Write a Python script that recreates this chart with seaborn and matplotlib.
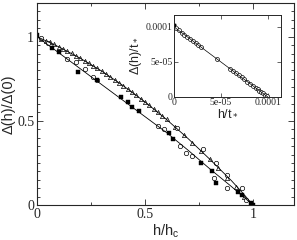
import numpy as np
import pandas as pd
import seaborn as sns
import matplotlib.pyplot as plt
from matplotlib.ticker import MultipleLocator

# ---- data ----
line_h = [0.0, 0.1, 0.2, 0.3, 0.4, 0.5, 0.6, 0.7, 0.8, 0.9, 0.95, 1.0]
upper_line = [1.0, 0.94, 0.872, 0.795, 0.708, 0.612, 0.508, 0.394, 0.272, 0.145, 0.075, 0.0]
lower_line = [1.0, 0.905, 0.81, 0.715, 0.62, 0.525, 0.43, 0.325, 0.215, 0.11, 0.055, 0.0]

tri_h = [0.02, 0.04, 0.06, 0.08, 0.10, 0.12, 0.14, 0.16, 0.18, 0.20, 0.22, 0.24, 0.26,
         0.28, 0.30, 0.32, 0.34, 0.36, 0.38, 0.40, 0.42, 0.44, 0.46, 0.48, 0.50, 0.52,
         0.54, 0.56, 0.58, 0.60, 0.64, 0.68, 0.72, 0.76, 0.80, 0.84, 0.88, 0.92, 0.96]
tri_d = [0.989, 0.977, 0.966, 0.954, 0.941, 0.929, 0.914, 0.901, 0.887, 0.872, 0.857,
         0.842, 0.827, 0.811, 0.795, 0.778, 0.761, 0.744, 0.726, 0.708, 0.690, 0.671,
         0.652, 0.632, 0.612, 0.592, 0.572, 0.551, 0.530, 0.509, 0.463, 0.417,
         0.371, 0.323, 0.272, 0.218, 0.162, 0.104, 0.05]

circ_h = [0.02, 0.05, 0.14, 0.18, 0.22, 0.26, 0.28, 0.56, 0.59, 0.66, 0.69, 0.72,
          0.82, 0.88, 0.97, 0.65, 0.77, 0.83, 0.88, 0.95]
circ_d = [0.99, 0.96, 0.87, 0.85, 0.81, 0.76, 0.74, 0.47, 0.45, 0.35, 0.31, 0.29,
          0.16, 0.10, 0.03, 0.46, 0.33, 0.25, 0.18, 0.10]

sq_h = [0.0, 0.07, 0.10, 0.19, 0.28, 0.39, 0.42, 0.44, 0.47, 0.61, 0.63, 0.76,
        0.81, 0.83, 0.93, 0.95, 0.99, 1.0]
sq_d = [1.01, 0.93, 0.91, 0.79, 0.74, 0.64, 0.61, 0.58, 0.56, 0.43, 0.39, 0.25,
        0.20, 0.13, 0.08, 0.06, 0.01, 0.0]

# inset
ins_line_x = [0.0, 1.0e-4]
ins_line_y = [1.0e-4, 0.0]
ins_x = [0.2e-5, 0.5e-5, 0.8e-5, 1.1e-5, 1.4e-5, 1.7e-5, 2.0e-5, 2.3e-5, 2.6e-5,
         2.9e-5, 4.6e-5, 6.0e-5, 6.3e-5, 6.6e-5, 6.9e-5, 7.2e-5, 7.5e-5, 7.8e-5,
         8.1e-5, 8.4e-5, 8.7e-5, 8.9e-5, 9.1e-5, 9.3e-5, 9.5e-5, 9.7e-5, 9.9e-5]
ins_y = [9.8e-5, 9.5e-5, 9.2e-5, 8.9e-5, 8.6e-5, 8.3e-5, 8.0e-5, 7.7e-5, 7.4e-5,
         7.1e-5, 5.4e-5, 4.0e-5, 3.7e-5, 3.4e-5, 3.1e-5, 2.8e-5, 2.5e-5, 2.2e-5,
         1.9e-5, 1.6e-5, 1.3e-5, 1.1e-5, 0.9e-5, 0.7e-5, 0.5e-5, 0.3e-5, 0.1e-5]
ins_dot_x = [0.0]
ins_dot_y = [1.03e-4]

sns.set_style("ticks")
plt.rcParams['font.family'] = ['Liberation Serif', 'DejaVu Serif']

fig = plt.figure(figsize=(2.97, 2.4), dpi=100)
W, H = 297, 240
ax = fig.add_axes([37 / W, 1 - 205 / H, (294 - 37) / W, (205 - 3) / H])

sns.lineplot(x=line_h, y=upper_line, ax=ax, color='black', lw=0.6)
sns.lineplot(x=line_h, y=lower_line, ax=ax, color='black', lw=0.6)
sns.scatterplot(x=tri_h, y=tri_d, ax=ax, marker='^', s=9, facecolor='white',
                edgecolor='black', linewidth=0.5)
sns.scatterplot(x=circ_h, y=circ_d, ax=ax, marker='o', s=10, facecolor='white',
                edgecolor='black', linewidth=0.5)
sns.scatterplot(x=sq_h, y=sq_d, ax=ax, marker='s', s=11, color='black',
                edgecolor='black', linewidth=0.3)

ax.set_xlim(0, 1.19)
ax.set_ylim(0, 1.2)
ax.set_xticks([0, 0.5, 1])
ax.set_xticklabels(['0', '0.5', '1'])
ax.set_yticks([0, 0.5, 1])
ax.set_yticklabels(['0', '0.5', '1'])
ax.xaxis.set_minor_locator(MultipleLocator(0.25))
ax.yaxis.set_minor_locator(MultipleLocator(0.05))
ax.tick_params(which='both', direction='in', top=True, right=True, labelsize=10,
               width=0.6, pad=2)
ax.tick_params(which='major', length=4)
ax.tick_params(which='minor', length=2)
for sp in ax.spines.values():
    sp.set_linewidth(0.8)
ax.set_xlabel('h/h$_\\mathregular{c}$', fontsize=10.5, family='Liberation Sans', labelpad=1)
ax.set_ylabel('Δ(h)/Δ(0)', fontsize=10.5, family='Liberation Sans', labelpad=1)

# inset
ax2 = fig.add_axes([174 / W, 1 - 97 / H, (281 - 174) / W, (97 - 15) / H])
sns.lineplot(x=ins_line_x, y=ins_line_y, ax=ax2, color='black', lw=0.5)
sns.scatterplot(x=ins_x, y=ins_y, ax=ax2, marker='o', s=8, facecolor='white',
                edgecolor='black', linewidth=0.5)
sns.scatterplot(x=ins_dot_x, y=ins_dot_y, ax=ax2, marker='o', s=12, color='black')
ax2.set_xlim(0, 1.14e-4)
ax2.set_ylim(0, 1.17e-4)
ax2.set_xticks([0, 5e-5, 1e-4])
ax2.set_xticklabels(['0', '5e-05', '0.0001'])
ax2.set_yticks([0, 5e-5, 1e-4])
ax2.set_yticklabels(['0', '5e-05', '0.0001'])
ax2.tick_params(which='both', direction='in', top=True, right=True, labelsize=7,
                width=0.5, length=3, pad=1)
for sp in ax2.spines.values():
    sp.set_linewidth(0.7)
ax2.set_xlabel('h/t$_*$', fontsize=9, family='Liberation Sans', labelpad=0)
ax2.set_ylabel('Δ(h)/t$_*$', fontsize=9, family='Liberation Sans', labelpad=1)

fig.savefig('out.png', dpi=100)
